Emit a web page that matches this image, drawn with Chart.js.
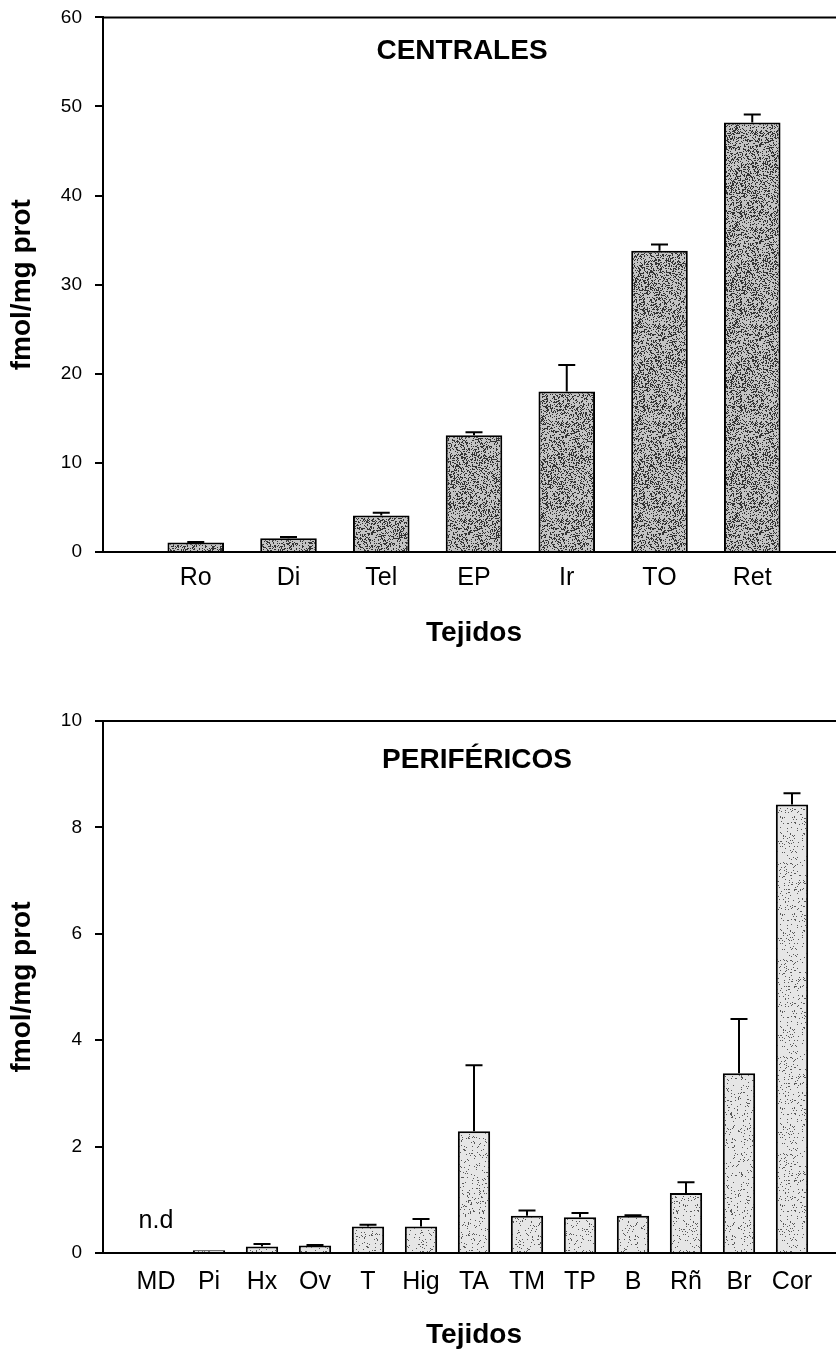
<!DOCTYPE html>
<html>
<head>
<meta charset="utf-8">
<script src="https://cdn.jsdelivr.net/npm/chart.js@4.4.1/dist/chart.umd.min.js"></script>
<style>
    html, body { margin: 0; padding: 0; background: #fff; width: 836px; height: 1353px; overflow: hidden; }
    .panel { position: absolute; left: 0; }
    #panel-top { top: -7px; }
    #panel-bottom { top: 690px; }
</style>
</head>
<body>
<div class="panel" id="panel-top"><canvas id="centralChart" width="845" height="697"></canvas></div>
<div class="panel" id="panel-bottom"><canvas id="periChart" width="845" height="680"></canvas></div>
<script>
// --- Data: tejidos centrales ---
const centralLabels = ['Ro', 'Di', 'Tel', 'EP', 'Ir', 'TO', 'Ret'];
const centralValues = [1.06, 1.53, 4.11, 13.1, 18.0, 33.8, 48.2];
const centralErrors = [0.05, 0.15, 0.3, 0.35, 3.0, 0.7, 0.9];
const centralYTicks = [0, 10, 20, 30, 40, 50, 60];

// --- Data: tejidos periféricos (MD no detectado) ---
const periLabels = ['MD', 'Pi', 'Hx', 'Ov', 'T', 'Hig', 'TA', 'TM', 'TP', 'B', 'Rñ', 'Br', 'Cor'];
const periValues = [null, 0.05, 0.12, 0.14, 0.50, 0.50, 2.29, 0.70, 0.67, 0.70, 1.13, 3.38, 8.43];
const periErrors = [0, 0, 0.05, 0.01, 0.03, 0.14, 1.24, 0.10, 0.08, 0.01, 0.20, 1.02, 0.21];
const periNotes = ['n.d', '', '', '', '', '', '', '', '', '', '', '', ''];
const periYTicks = [0, 2, 4, 6, 8, 10];

Chart.defaults.font.family = "'Liberation Sans', Arial, sans-serif";
Chart.defaults.color = '#000';

// stipple texture for the bars (styling only, fixed seed so it's the same every run)
function stipple(ctx, base, dot, density, seed) {
    const c = document.createElement('canvas');
    c.width = 97; c.height = 97;
    const g = c.getContext('2d');
    g.fillStyle = base;
    g.fillRect(0, 0, 97, 97);
    g.fillStyle = dot;
    let s = seed >>> 0;
    for (let y = 0; y < 97; y++) {
        for (let x = 0; x < 97; x++) {
            s = (Math.imul(s, 1103515245) + 12345) >>> 0;
            if ((s & 0xffff) / 0xffff < density) g.fillRect(x, y, 1, 1);
        }
    }
    return ctx.createPattern(c, 'repeat');
}

// frame top line, error bars, notes and panel title
const panelDecor = {
    id: 'panelDecor',
    afterDatasetsDraw(chart, args, opts) {
        const { ctx, chartArea: a, scales: { x, y } } = chart;
        ctx.save();
        ctx.strokeStyle = '#000';
        ctx.lineWidth = 2;
        ctx.beginPath();
        ctx.moveTo(a.left, a.top);
        ctx.lineTo(a.right + 2, a.top);
        ctx.stroke();

        const pts = chart.data.datasets[0].data;
        pts.forEach((p, i) => {
            const e = opts.errors[i];
            if (p.y == null || !e) return;
            const px = x.getPixelForValue(p.x);
            const y0 = y.getPixelForValue(p.y);
            const y1 = y.getPixelForValue(p.y + e);
            ctx.beginPath();
            ctx.moveTo(px, y0);
            ctx.lineTo(px, y1);
            ctx.moveTo(px - 8.5, y1);
            ctx.lineTo(px + 8.5, y1);
            ctx.stroke();
        });

        ctx.fillStyle = '#000';
        ctx.textAlign = 'center';
        ctx.textBaseline = 'alphabetic';
        if (opts.notes) {
            ctx.font = "25px 'Liberation Sans', Arial, sans-serif";
            opts.notes.forEach((n, i) => {
                if (n) ctx.fillText(n, x.getPixelForValue(pts[i].x), y.getPixelForValue(0) - 25);
            });
        }
        ctx.font = "bold 28px 'Liberation Sans', Arial, sans-serif";
        ctx.fillText(opts.title, (a.left + a.right) / 2 + opts.titleDx, opts.titleBaseline);
        ctx.restore();
    }
};

function makeChart(canvasId, cfg) {
    const canvas = document.getElementById(canvasId);
    const ctx = canvas.getContext('2d');
    const points = cfg.labels.map((_, i) => ({ x: i + 1, y: cfg.values[i] }));

    return new Chart(ctx, {
        type: 'bar',
        data: {
            datasets: [{
                data: points,
                backgroundColor: stipple(ctx, cfg.fill[0], cfg.fill[1], cfg.fill[2], cfg.fill[3]),
                borderColor: '#000',
                borderWidth: 2,
                barPercentage: 0.61,
                categoryPercentage: 1
            }]
        },
        options: {
            responsive: false,
            animation: false,
            layout: { padding: { top: cfg.padTop, left: 0, right: 0, bottom: 0 } },
            scales: {
                x: {
                    type: 'linear',
                    min: 0,
                    max: cfg.labels.length + 1,
                    offset: false,
                    afterBuildTicks: s => { s.ticks = cfg.labels.map((_, i) => ({ value: i + 1 })); },
                    ticks: {
                        callback: (v, i) => cfg.labels[i],
                        autoSkip: false,
                        maxRotation: 0,
                        minRotation: 0,
                        padding: cfg.xTickPad,
                        font: { size: 25 },
                        color: '#000'
                    },
                    grid: { drawOnChartArea: false, drawTicks: false },
                    border: { display: true, color: '#000', width: 2 },
                    title: {
                        display: true,
                        text: 'Tejidos',
                        font: { size: 28, weight: 'bold' },
                        padding: { top: 0, bottom: cfg.xTitlePad },
                        color: '#000'
                    },
                    afterFit: s => { s.height = cfg.xHeight; }
                },
                y: {
                    min: cfg.yTicks[0],
                    max: cfg.yTicks[cfg.yTicks.length - 1],
                    afterBuildTicks: s => { s.ticks = cfg.yTicks.map(v => ({ value: v })); },
                    ticks: { padding: 13, font: { size: 19 }, color: '#000' },
                    grid: { drawOnChartArea: false, drawTicks: true, tickLength: 8, color: '#000', lineWidth: 2 },
                    border: { display: true, color: '#000', width: 2 },
                    title: {
                        display: true,
                        text: 'fmol/mg prot',
                        font: { size: 28, weight: 'bold' },
                        padding: { top: 5, bottom: 0 },
                        color: '#000'
                    },
                    afterFit: s => { s.width = 103; }
                }
            },
            plugins: {
                legend: { display: false },
                tooltip: { enabled: false },
                panelDecor: {
                    errors: cfg.errors,
                    notes: cfg.notes,
                    title: cfg.title,
                    titleDx: cfg.titleDx,
                    titleBaseline: cfg.titleBaseline
                }
            }
        },
        plugins: [panelDecor]
    });
}

makeChart('centralChart', {
    labels: centralLabels,
    values: centralValues,
    errors: centralErrors,
    yTicks: centralYTicks,
    title: 'CENTRALES',
    titleDx: -12,
    titleBaseline: 66,
    padTop: 17,
    xHeight: 138,
    xTickPad: 11.5,
    xTitlePad: 40,
    fill: ['#c4c4c4', '#333333', 0.32, 7]
});

makeChart('periChart', {
    labels: periLabels,
    values: periValues,
    errors: periErrors,
    notes: periNotes,
    yTicks: periYTicks,
    title: 'PERIFÉRICOS',
    titleDx: 3,
    titleBaseline: 78,
    padTop: 31,
    xHeight: 117,
    xTickPad: 14,
    xTitlePad: 18,
    fill: ['#e6e6e6', '#5a5a5a', 0.08, 13]
});
</script>
</body>
</html>
